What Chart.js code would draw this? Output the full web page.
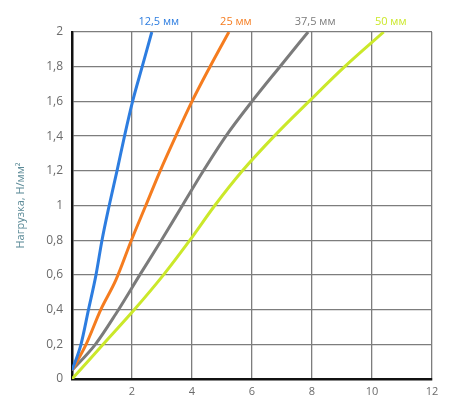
<!DOCTYPE html>
<html>
<head>
<meta charset="utf-8">
<script src="https://cdn.jsdelivr.net/npm/chart.js@4.4.0/dist/chart.umd.min.js"></script>
<style>
  html, body { margin: 0; padding: 0; background: #fff; }
  #wrap { width: 470px; height: 400px; }
</style>
</head>
<body>
<div id="wrap"><canvas id="loadChart" width="470" height="400"></canvas></div>
<script>
// deformation (x) vs load (y) for each thickness
const seriesNames = ['12,5 мм', '25 мм', '37,5 мм', '50 мм'];
const seriesColors = ['#2d7de0', '#f57c1f', '#7b7b7b', '#cbe82a'];

const blueX = [0, 0.3, 0.55, 0.8, 1.0, 1.24, 1.5, 1.75, 2.02, 2.34, 2.66];
const blueY = [0.05, 0.2, 0.4, 0.6, 0.8, 1.0, 1.2, 1.4, 1.6, 1.8, 2.0];

const orangeX = [0, 0.47, 0.96, 1.46, 1.98, 2.46, 2.94, 3.46, 4.0, 4.6, 5.23];
const orangeY = [0.05, 0.2, 0.4, 0.57, 0.8, 1.0, 1.2, 1.4, 1.6, 1.8, 2.0];

const grayX = [0, 0.78, 1.46, 2.26, 2.98, 3.68, 4.38, 5.13, 6.0, 6.93, 7.87];
const grayY = [0.05, 0.2, 0.375, 0.6, 0.8, 1.0, 1.2, 1.4, 1.6, 1.8, 2.0];

const greenX = [0, 1.04, 2.08, 3.05, 3.93, 4.76, 5.68, 6.74, 7.9, 9.09, 10.39];
const greenY = [0, 0.2, 0.4, 0.6, 0.8, 1.0, 1.2, 1.4, 1.6, 1.8, 2.0];

const allX = [blueX, orangeX, grayX, greenX];
const allY = [blueY, orangeY, grayY, greenY];

const toPoints = (xs, ys) => xs.map((x, i) => ({ x: x, y: ys[i] }));
const comma = (v) => String(Math.round(v * 10) / 10).replace('.', ',');

// name of each curve written just above its top end
const endLabels = {
    id: 'endLabels',
    afterDatasetsDraw(chart) {
        const c = chart.ctx;
        c.save();
        c.font = '11px "Open Sans", sans-serif';
        c.textAlign = 'center';
        c.textBaseline = 'middle';
        chart.data.datasets.forEach((ds, i) => {
            const pts = chart.getDatasetMeta(i).data;
            const last = pts[pts.length - 1];
            c.fillStyle = ds.borderColor;
            c.fillText(ds.label, last.x + 7, last.y - 10);
        });
        c.restore();
    }
};

const ctx = document.getElementById('loadChart').getContext('2d');
new Chart(ctx, {
    type: 'scatter',
    data: {
        datasets: seriesNames.map((name, i) => ({
            label: name,
            data: toPoints(allX[i], allY[i]),
            showLine: true,
            borderColor: seriesColors[i],
            backgroundColor: seriesColors[i],
            borderWidth: 3,
            pointRadius: 0,
            cubicInterpolationMode: 'monotone'
        }))
    },
    options: {
        responsive: false,
        animation: false,
        layout: { padding: { left: 0, right: 38, top: 32, bottom: 0 } },
        plugins: {
            legend: { display: false },
            tooltip: { enabled: false }
        },
        scales: {
            x: {
                type: 'linear',
                min: 0,
                max: 12,
                afterFit: (s) => { s.height = 21; },
                grid: { color: '#7d7d7d', lineWidth: 1.3, drawTicks: false },
                border: { color: '#111', width: 2.5 },
                ticks: {
                    stepSize: 2,
                    padding: 6,
                    color: '#6b6b6b',
                    font: { family: '"Open Sans", sans-serif', size: 11 },
                    callback: (v) => (v === 0 ? '' : comma(v))
                }
            },
            y: {
                min: 0,
                max: 2,
                afterFit: (s) => { s.width = 72; },
                grid: { color: '#7d7d7d', lineWidth: 1.3, drawTicks: false },
                border: { color: '#111', width: 2.5 },
                ticks: {
                    stepSize: 0.2,
                    padding: 9,
                    color: '#6b6b6b',
                    font: { family: '"Open Sans", sans-serif', size: 12 },
                    callback: (v) => comma(v)
                },
                title: {
                    display: true,
                    text: 'Нагрузка, Н/мм²',
                    color: '#5b8a97',
                    padding: { top: 14, bottom: 0 },
                    font: { family: '"Open Sans", sans-serif', size: 11 }
                }
            }
        }
    },
    plugins: [endLabels]
});
</script>
</body>
</html>
